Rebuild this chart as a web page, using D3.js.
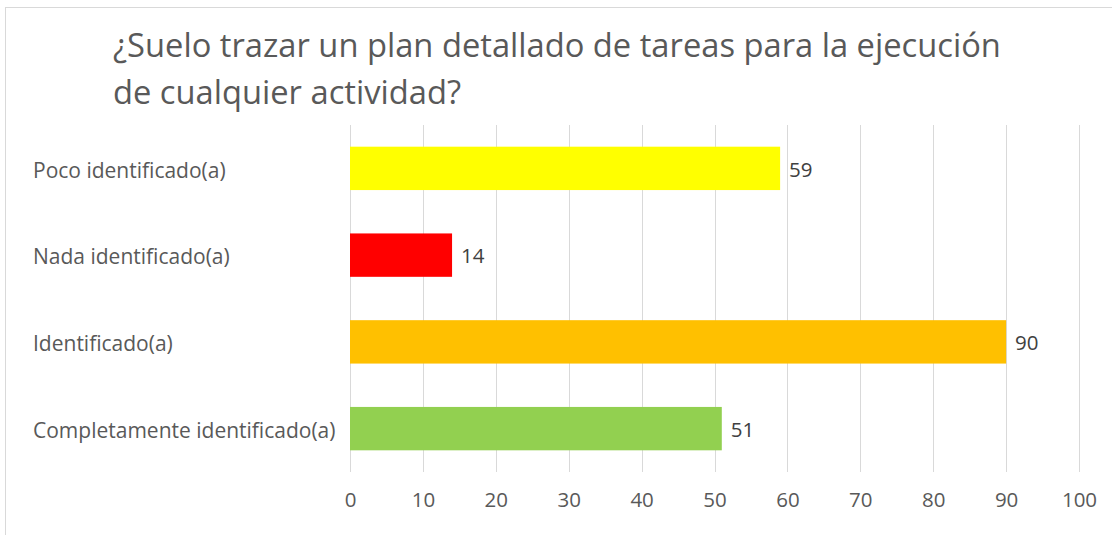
<!DOCTYPE html>
<html>
<head>
<meta charset="utf-8">
<script src="https://cdn.jsdelivr.net/npm/d3@7"></script>
<style>
  body { margin: 0; background: #fff; }
  svg { display: block; font-family: "Open Sans", "Noto Sans", sans-serif; }
</style>
</head>
<body>
<div id="chart"></div>
<script>
const categories = ["Poco identificado(a)", "Nada identificado(a)", "Identificado(a)", "Completamente identificado(a)"];
const values = [59, 14, 90, 51];
const colors = ["#FFFF00", "#FF0000", "#FFC000", "#92D050"];
const ticks = [0, 10, 20, 30, 40, 50, 60, 70, 80, 90, 100];
const titleLines = ["¿Suelo trazar un plan detallado de tareas para la ejecución", "de cualquier actividad?"];

const width = 1112;
const height = 535;

const svg = d3.select("#chart")
  .append("svg")
  .attr("width", width)
  .attr("height", height);

// chart area frame
svg.append("rect")
  .attr("x", 5.5)
  .attr("y", 7.5)
  .attr("width", width + 10)
  .attr("height", height + 10)
  .attr("fill", "#fff")
  .attr("stroke", "#d9d9d9")
  .attr("stroke-width", 1);

const x = d3.scaleLinear().domain([0, 100]).range([350, 1079]);
const y = d3.scaleBand().domain(categories).range([125, 472]).paddingInner(0.5).paddingOuter(0.25);

// gridlines
svg.append("g")
  .selectAll("line")
  .data(ticks)
  .enter()
  .append("line")
  .attr("x1", d => Math.round(x(d)) + 0.5)
  .attr("x2", d => Math.round(x(d)) + 0.5)
  .attr("y1", 125)
  .attr("y2", 472)
  .attr("stroke", "#d9d9d9")
  .attr("stroke-width", 1);

// bars
svg.append("g")
  .selectAll("rect")
  .data(categories)
  .enter()
  .append("rect")
  .attr("x", x(0))
  .attr("y", d => y(d))
  .attr("width", (d, i) => x(values[i]) - x(0))
  .attr("height", y.bandwidth())
  .attr("fill", (d, i) => colors[i]);

// value labels
svg.append("g")
  .selectAll("text")
  .data(categories)
  .enter()
  .append("text")
  .attr("x", (d, i) => x(values[i]) + 9)
  .attr("y", d => y(d) + y.bandwidth() / 2 + 1)
  .attr("dy", "0.35em")
  .attr("fill", "#404040")
  .attr("font-size", "20.5px")
  .text((d, i) => values[i]);

// category labels
svg.append("g")
  .selectAll("text")
  .data(categories)
  .enter()
  .append("text")
  .attr("x", 33)
  .attr("y", d => y(d) + y.bandwidth() / 2 + 2)
  .attr("dy", "0.35em")
  .attr("fill", "#595959")
  .attr("font-size", "21px")
  .text(d => d);

// x axis labels
const xAxis = d3.axisBottom(x).tickValues(ticks).tickSize(0).tickPadding(0);
const gx = svg.append("g")
  .attr("transform", "translate(0,492)")
  .call(xAxis);
gx.select(".domain").remove();
gx.selectAll("text")
  .attr("fill", "#595959")
  .attr("font-size", "20.5px")
  .attr("font-family", "\"Open Sans\", \"Noto Sans\", sans-serif");

// title
svg.append("g")
  .selectAll("text")
  .data(titleLines)
  .enter()
  .append("text")
  .attr("x", 113)
  .attr("y", (d, i) => 57 + i * 47)
  .attr("fill", "#595959")
  .attr("font-size", "32.7px")
  .text(d => d);
</script>
</body>
</html>
